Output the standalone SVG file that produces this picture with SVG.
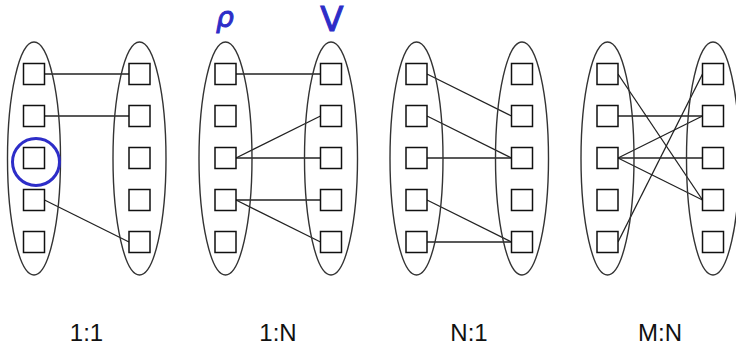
<svg xmlns="http://www.w3.org/2000/svg" width="736" height="346" viewBox="0 0 736 346">
<style>
.set{fill:none;stroke:#333;stroke-width:1.4}
.box{fill:#fff;stroke:#111;stroke-width:1.5}
.link{stroke:#222;stroke-width:1.3;fill:none}
.lbl{font-family:"Liberation Sans",Arial,sans-serif;font-size:24px;fill:#111;text-anchor:middle}
.ink{fill:none;stroke:#2d2dc8;stroke-width:3}
.hand{font-family:"DejaVu Sans",sans-serif;fill:#2d2dc8;stroke:#2d2dc8;stroke-width:1;text-anchor:middle}
</style>
<defs>
<rect id="sq" x="-10.5" y="-10.5" width="21" height="21"/>
</defs>
<rect width="736" height="346" fill="#fff"/>

<g id="connectors">
<line class="link" x1="44.5" y1="74" x2="129" y2="74"/>
<line class="link" x1="44.5" y1="116" x2="129" y2="116"/>
<line class="link" x1="44.5" y1="200" x2="129" y2="242"/>

<line class="link" x1="236" y1="74" x2="320.5" y2="74"/>
<line class="link" x1="236" y1="158" x2="320.5" y2="116"/>
<line class="link" x1="236" y1="158" x2="320.5" y2="158"/>
<line class="link" x1="236" y1="200" x2="320.5" y2="200"/>
<line class="link" x1="236" y1="200" x2="320.5" y2="242"/>

<line class="link" x1="427" y1="74" x2="511.5" y2="116"/>
<line class="link" x1="427" y1="116" x2="511.5" y2="158"/>
<line class="link" x1="427" y1="158" x2="511.5" y2="158"/>
<line class="link" x1="427" y1="200" x2="511.5" y2="242"/>
<line class="link" x1="427" y1="242" x2="511.5" y2="242"/>

<line class="link" x1="618" y1="74" x2="702.5" y2="200"/>
<line class="link" x1="618" y1="116" x2="702.5" y2="116"/>
<line class="link" x1="618" y1="158" x2="702.5" y2="116"/>
<line class="link" x1="618" y1="158" x2="702.5" y2="158"/>
<line class="link" x1="618" y1="158" x2="702.5" y2="200"/>
<line class="link" x1="618" y1="242" x2="702.5" y2="74"/>
</g>

<g id="set-1L"><ellipse class="set" cx="34" cy="158.5" rx="26.5" ry="116.5"/></g>
<g id="set-1R"><ellipse class="set" cx="139.5" cy="158.5" rx="26.5" ry="116.5"/></g>
<g id="set-2L"><ellipse class="set" cx="225.5" cy="158.5" rx="26.5" ry="116.5"/></g>
<g id="set-2R"><ellipse class="set" cx="331" cy="158.5" rx="26.5" ry="116.5"/></g>
<g id="set-3L"><ellipse class="set" cx="416.5" cy="158.5" rx="26.5" ry="116.5"/></g>
<g id="set-3R"><ellipse class="set" cx="522" cy="158.5" rx="26.5" ry="116.5"/></g>
<g id="set-4L"><ellipse class="set" cx="607.5" cy="158.5" rx="26.5" ry="116.5"/></g>
<g id="set-4R"><ellipse class="set" cx="713" cy="158.5" rx="26.5" ry="116.5"/></g>

<g id="p1-left" class="box">
<use href="#sq" x="34" y="74"/><use href="#sq" x="34" y="116"/><use href="#sq" x="34" y="158"/><use href="#sq" x="34" y="200"/><use href="#sq" x="34" y="242"/>
</g>
<g id="p1-right" class="box">
<use href="#sq" x="139.5" y="74"/><use href="#sq" x="139.5" y="116"/><use href="#sq" x="139.5" y="158"/><use href="#sq" x="139.5" y="200"/><use href="#sq" x="139.5" y="242"/>
</g>
<g id="p2-left" class="box">
<use href="#sq" x="225.5" y="74"/><use href="#sq" x="225.5" y="116"/><use href="#sq" x="225.5" y="158"/><use href="#sq" x="225.5" y="200"/><use href="#sq" x="225.5" y="242"/>
</g>
<g id="p2-right" class="box">
<use href="#sq" x="331" y="74"/><use href="#sq" x="331" y="116"/><use href="#sq" x="331" y="158"/><use href="#sq" x="331" y="200"/><use href="#sq" x="331" y="242"/>
</g>
<g id="p3-left" class="box">
<use href="#sq" x="416.5" y="74"/><use href="#sq" x="416.5" y="116"/><use href="#sq" x="416.5" y="158"/><use href="#sq" x="416.5" y="200"/><use href="#sq" x="416.5" y="242"/>
</g>
<g id="p3-right" class="box">
<use href="#sq" x="522" y="74"/><use href="#sq" x="522" y="116"/><use href="#sq" x="522" y="158"/><use href="#sq" x="522" y="200"/><use href="#sq" x="522" y="242"/>
</g>
<g id="p4-left" class="box">
<use href="#sq" x="607.5" y="74"/><use href="#sq" x="607.5" y="116"/><use href="#sq" x="607.5" y="158"/><use href="#sq" x="607.5" y="200"/><use href="#sq" x="607.5" y="242"/>
</g>
<g id="p4-right" class="box">
<use href="#sq" x="713" y="74"/><use href="#sq" x="713" y="116"/><use href="#sq" x="713" y="158"/><use href="#sq" x="713" y="200"/><use href="#sq" x="713" y="242"/>
</g>

<g id="labels">
<text class="lbl" x="86.5" y="341">1:1</text>
<text class="lbl" x="278" y="341">1:N</text>
<text class="lbl" x="469" y="341">N:1</text>
<text class="lbl" x="660" y="341">M:N</text>
</g>

<g id="annotations">
<ellipse class="ink" cx="36" cy="162" rx="23.5" ry="23.5"/>
<text class="hand" x="225" y="27" font-size="28" font-style="italic">ρ</text>
<text class="hand" x="332" y="31" font-size="34">V</text>
</g>
</svg>
